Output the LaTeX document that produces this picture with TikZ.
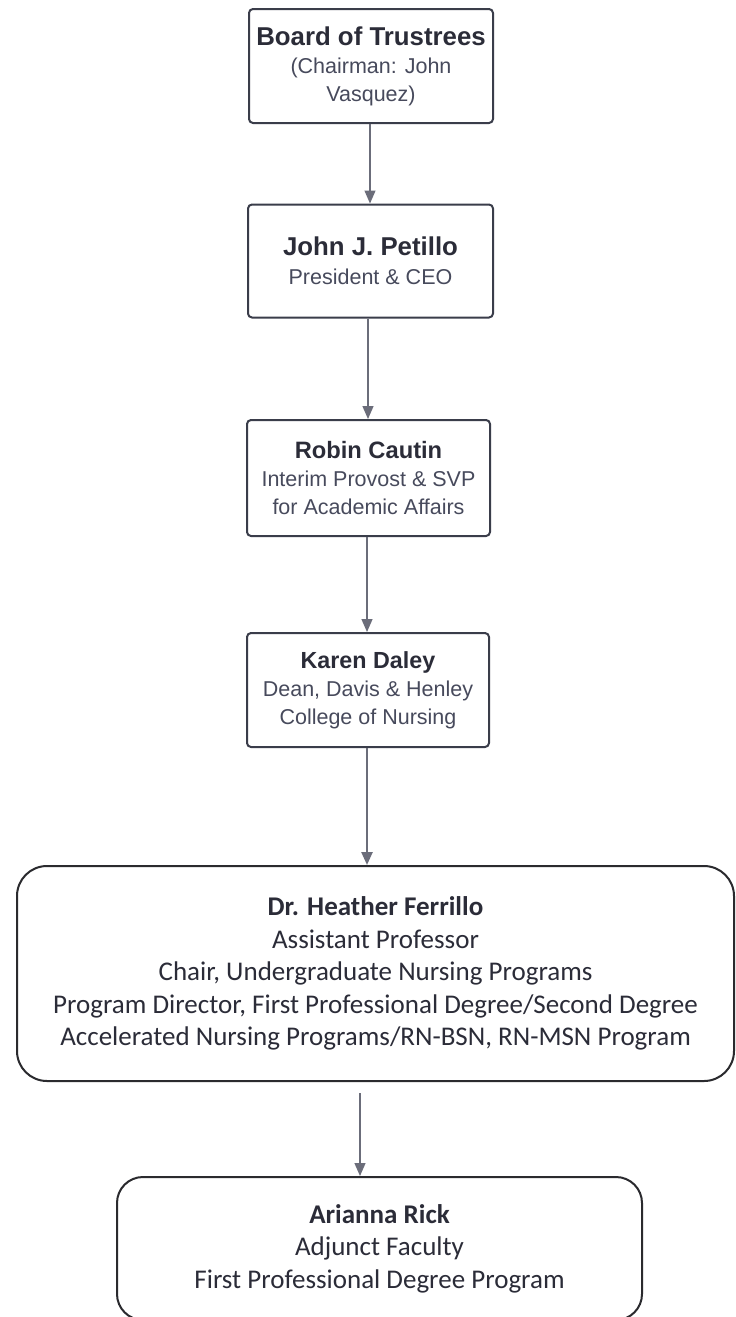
\documentclass[tikz,border=0pt]{standalone}
\usepackage{fontspec}
\setmainfont{Liberation Sans}
\newfontfamily\carlitofont{Carlito}
\usetikzlibrary{arrows.meta}
\definecolor{boxline}{HTML}{3A3D4A}
\definecolor{txt}{HTML}{2B2C38}
\definecolor{subtxt}{HTML}{474A5C}
\definecolor{arrowc}{HTML}{6B6D7A}
\definecolor{lowline}{HTML}{2A2A2E}
\tikzset{
  topbox/.style={draw=boxline, line width=2pt, rounded corners=4pt, align=center,
    text=subtxt, inner sep=0pt, font=\fontsize{21.5}{27.5}\selectfont},
  lowbox/.style={draw=lowline, line width=2pt, align=center, text=txt, inner sep=0pt,
    font=\carlitofont\fontsize{27}{32.5}\selectfont},
  conn/.style={draw=arrowc, line width=1.3pt, -{Triangle[length=13pt,width=11pt]}, fill=arrowc}
}
\newcommand{\bname}[2]{{\color{txt}\fontsize{#1}{29}\selectfont\bfseries #2}}
\begin{document}
\begin{tikzpicture}[x=1pt,y=-1pt]
\useasboundingbox (0,0) rectangle (736,1317);
\fill[white] (0,0) rectangle (736,1317);
\node[topbox, minimum width=244pt, minimum height=114pt] (b1) at (371,66)
  {\bname{25.8}{Board of Trustrees}\\[1pt](Chairman: John\\Vasquez)};
\node[topbox, minimum width=245pt, minimum height=113pt] (b2) at (370.5,261)
  {\bname{25.8}{John J. Petillo}\\[1pt]President \& CEO};
\node[topbox, minimum width=243pt, minimum height=116pt] (b3) at (368.5,478)
  {\bname{23.7}{Robin Cautin}\\[1pt]Interim Provost \& SVP\\for Academic Affairs};
\node[topbox, minimum width=242pt, minimum height=114pt] (b4) at (368,690)
  {\bname{23.3}{Karen Daley}\\[1pt]Dean, Davis \& Henley\\College of Nursing};
\node[lowbox, rounded corners=30pt, minimum width=717pt, minimum height=215pt] (b5) at (375.5,973.5)
  {\textbf{Dr. Heather Ferrillo}\\Assistant Professor\\Chair, Undergraduate Nursing Programs\\Program Director, First Professional Degree/Second Degree\\Accelerated Nursing Programs/RN-BSN, RN-MSN Program};
\node[lowbox, rounded corners=26pt, minimum width=525pt, minimum height=143pt] (b6) at (379.5,1248.5)
  {\textbf{Arianna Rick}\\Adjunct Faculty\\First Professional Degree Program};
\coordinate (a12) at (370,0);
\coordinate (a23) at (368,0);
\coordinate (a34) at (367,0);
\coordinate (a56) at (360,1093);
\draw[conn] (b1.south -| a12) -- (b2.north -| a12);
\draw[conn] (b2.south -| a23) -- (b3.north -| a23);
\draw[conn] (b3.south -| a34) -- (b4.north -| a34);
\draw[conn, line width=2.4pt] (b4.south -| a34) -- (b5.north -| a34);
\draw[conn] (a56) -- (b6.north -| a56);
\end{tikzpicture}
\end{document}
